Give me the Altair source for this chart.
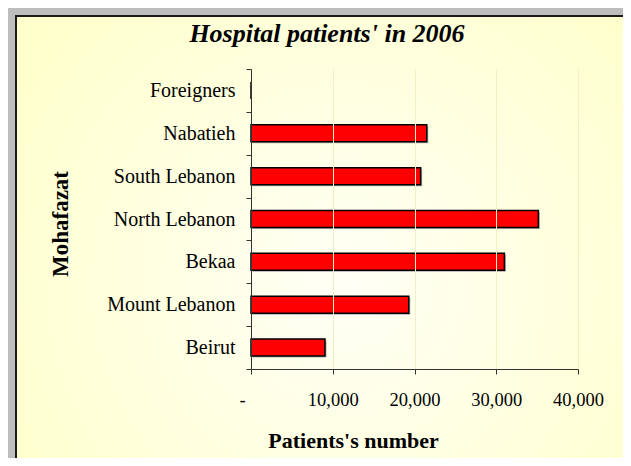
import altair as alt
import pandas as pd

# Data (bottom to top as in the source: first category plotted at the bottom)
regions = ["Beirut", "Mount Lebanon", "Bekaa", "North Lebanon", "South Lebanon", "Nabatieh", "Foreigners"]
patients = [9050, 19300, 31000, 35150, 20750, 21500, 0]
x_ticks = [0, 10000, 20000, 30000, 40000]

df = pd.DataFrame({"Mohafazat": regions, "Patients": patients})
top_to_bottom = list(reversed(regions))

SERIF = "Liberation Serif"
W, H = 327, 300

y_enc = alt.Y(
    "Mohafazat:N",
    sort=top_to_bottom,
    scale=alt.Scale(paddingInner=0, paddingOuter=0),
    axis=alt.Axis(
        title="Mohafazat",
        titleFont=SERIF, titleFontSize=23, titleFontWeight="bold", titleColor="black",
        titleAngle=270, titleAlign="center", titleBaseline="middle",
        titleX=-190.5, titleY=154.5,
        labelFont=SERIF, labelFontSize=20, labelColor="black", labelPadding=11,
        tickBand="extent", tickSize=5, tickColor="#333333", tickWidth=1,
        domainColor="#333333", domainWidth=1, grid=False, zindex=2,
    ),
)

x_enc = alt.X(
    "Patients:Q",
    scale=alt.Scale(domain=[0, 40000], nice=False),
    axis=alt.Axis(
        values=x_ticks,
        labelExpr="datum.value == 0 ? '-' : format(datum.value, ',')",
        labelOffset={"condition": {"test": "datum.value == 0", "value": -9}, "value": 0},
        labelFlush=False, labelOverlap=False,
        title="Patients's number",
        titleFont=SERIF, titleFontSize=22, titleFontWeight="bold", titleColor="black",
        titleBaseline="middle", titleX=102, titleY=71,
        labelFont=SERIF, labelFontSize=18.5, labelColor="black", labelPadding=16,
        tickSize=5, tickColor="#333333", tickWidth=1,
        domainColor="#333333", domainWidth=1,
        grid=True, gridColor="#F0F0C4", gridWidth=1, zindex=1,
    ),
)

panel = alt.Chart(df).mark_rect(
    fill=alt.Gradient(
        gradient="radial",
        stops=[alt.GradientStop(color="#FFFFF6", offset=0),
               alt.GradientStop(color="#FFFFCC", offset=1)],
        x1=0.5, y1=0.55, r1=0, x2=0.5, y2=0.55, r2=0.6,
    ),
    stroke="#1a1a1a", strokeWidth=2,
).encode(
    x=alt.value(-235), x2=alt.value(420), y=alt.value(-53), y2=alt.value(420)
)

shadow = alt.Chart(df).mark_bar(
    size=17, color="#7a7a7a", opacity=0.6, xOffset=1.5, yOffset=1.5
).encode(x=x_enc, y=y_enc)

bars = alt.Chart(df).mark_bar(
    size=17, color="#FF0000", stroke="black", strokeWidth=1.5
).encode(x=x_enc, y=y_enc)

chart = alt.layer(panel, shadow, bars).properties(
    width=W, height=H,
    title=alt.TitleParams(
        text="Hospital patients' in 2006",
        font=SERIF, fontSize=26, fontStyle="italic", fontWeight="bold",
        color="black", anchor="middle", dx=-87.5, baseline="alphabetic", offset=-53,
        zindex=3,
    ),
    autosize=alt.AutoSizeParams(type="none"),
    padding={"left": 243, "top": 61, "right": 45, "bottom": 89},
    background="#BDBDBD",
).configure_view(stroke=None)

chart.save("out.html", embed_options={"renderer": "svg", "actions": False})
